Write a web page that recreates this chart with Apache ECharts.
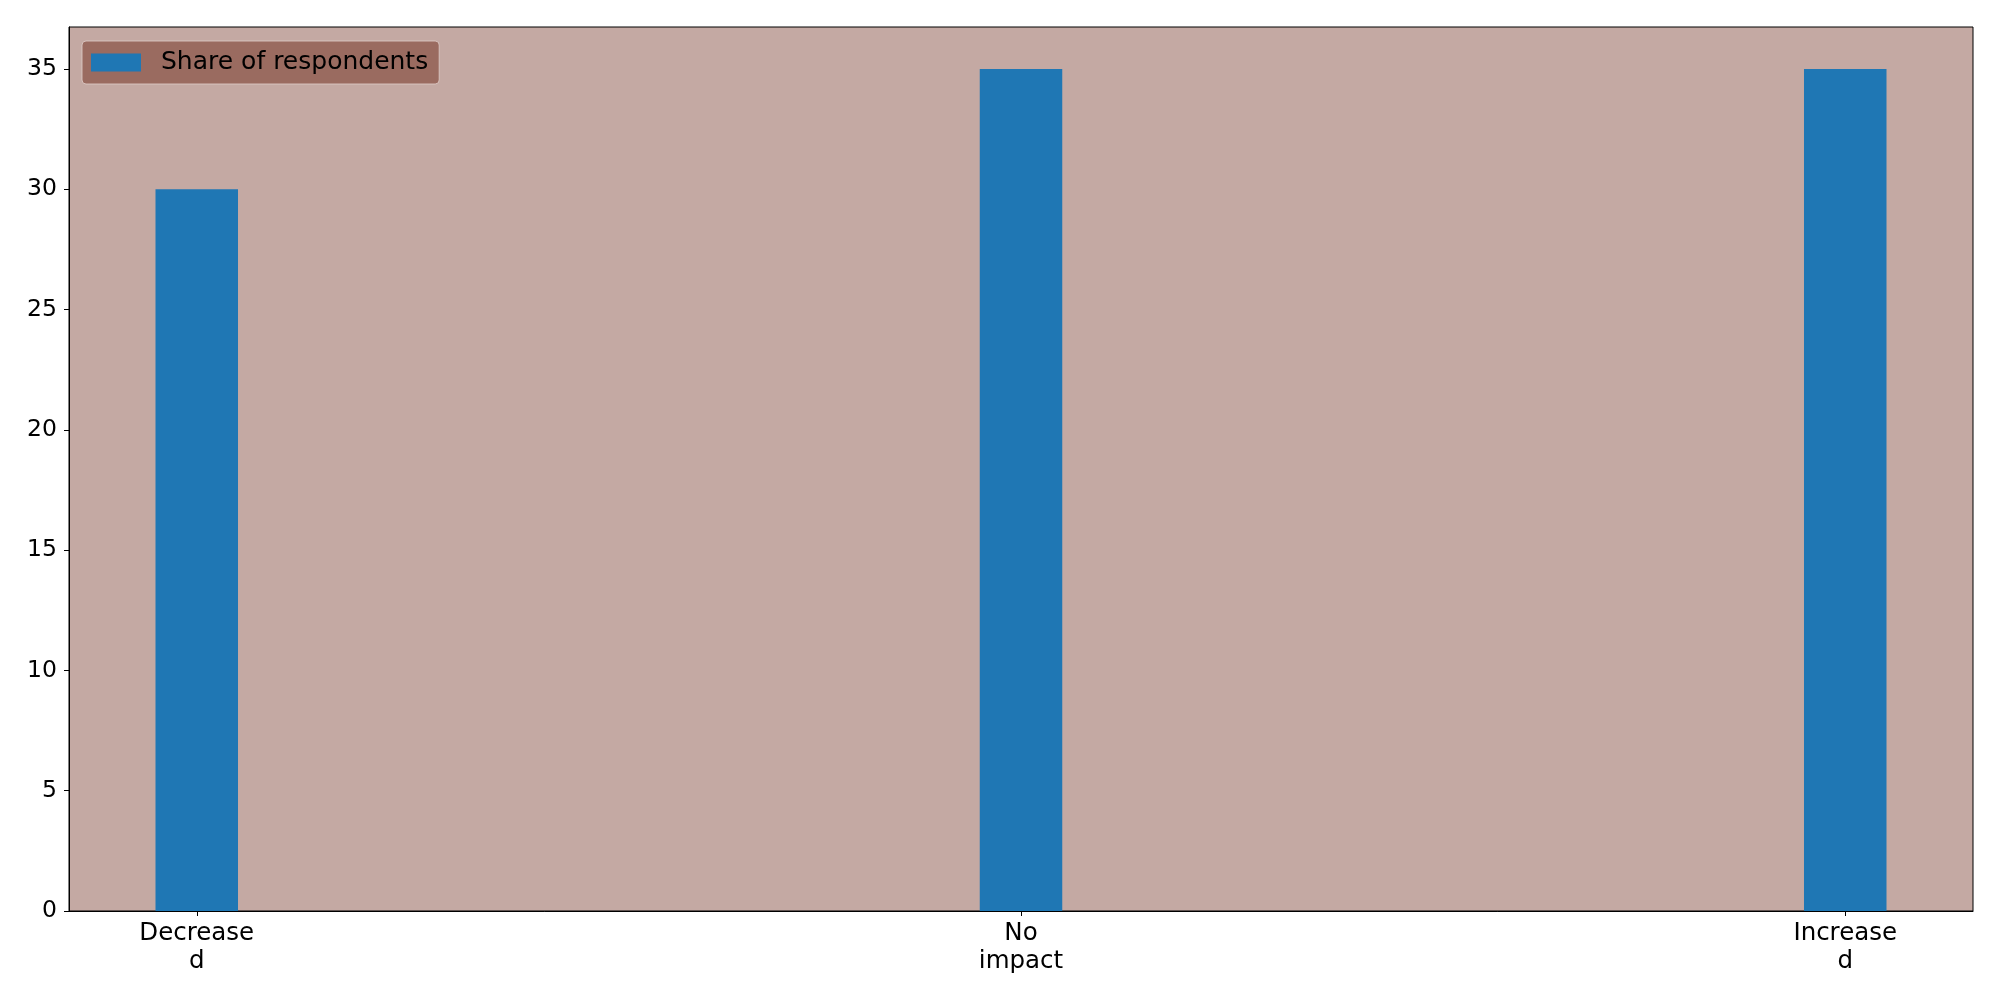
<!DOCTYPE html>
<html>
<head>
<meta charset="utf-8">
<style>
html,body{margin:0;padding:0;background:#fff;}
#chart{width:2000px;height:1000px;}
</style>
<script src="https://cdn.jsdelivr.net/npm/echarts@6/dist/echarts.min.js"></script>
</head>
<body>
<div id="chart"></div>
<script>
const categories = ["Decrease\nd", "No\nimpact", "Increase\nd"];
const shareValues = [30, 35, 35];
const seriesName = "Share of respondents";
const yTicks = [0, 5, 10, 15, 20, 25, 30, 35];

const chart = echarts.init(document.getElementById('chart'), null, {renderer: 'canvas'});
const font = 'DejaVu Sans';
const option = {
  animation: false,
  backgroundColor: '#ffffff',
  textStyle: {fontFamily: font},
  grid: {
    left: 69, right: 27, top: 27, bottom: 89,
    show: true, backgroundColor: '#c4a9a3', borderColor: '#000', borderWidth: 1,
    containLabel: false
  },
  legend: {
    left: 82, top: 41,
    data: [seriesName],
    itemWidth: 50, itemHeight: 18, itemGap: 10,
    padding: [9, 11, 9, 9],
    backgroundColor: 'rgba(152,103,93,0.95)',
    borderColor: 'rgba(220,200,195,0.9)', borderWidth: 1, borderRadius: 4,
    icon: 'rect',
    textStyle: {fontFamily: font, fontSize: 25, lineHeight: 25, color: '#000', padding: [0,0,0,15]}
  },
  xAxis: {
    type: 'value', min: -0.155, max: 2.155, interval: 1,
    splitLine: {show: false},
    axisLine: {show: true, onZero: false, lineStyle: {color: '#000', width: 1}},
    axisTick: {show: true, length: 5, lineStyle: {color: '#000'}, customValues: [0,1,2]},
    axisLabel: {
      show: true, customValues: [0,1,2],
      fontFamily: font, fontSize: 24.5, color: '#000', lineHeight: 28, margin: 9,
      formatter: function (v) { const i = Math.round(v); return categories[i] !== undefined ? categories[i] : ''; }
    }
  },
  yAxis: {
    type: 'value', min: 0, max: 36.75, interval: 5,
    splitLine: {show: false},
    axisLine: {show: true, onZero: false, lineStyle: {color: '#000', width: 1}},
    axisTick: {show: true, length: 5, lineStyle: {color: '#000'}, customValues: yTicks},
    axisLabel: {show: true, customValues: yTicks, fontFamily: font, fontSize: 23.5, color: '#000', margin: 12, padding: [4, 0, 0, 0]}
  },
  series: [{
    name: seriesName,
    type: 'bar',
    barWidth: 82.5,
    itemStyle: {color: '#1f77b4'},
    data: shareValues.map((v, i) => [i, v])
  }]
};
chart.setOption(option);
</script>
</body>
</html>
